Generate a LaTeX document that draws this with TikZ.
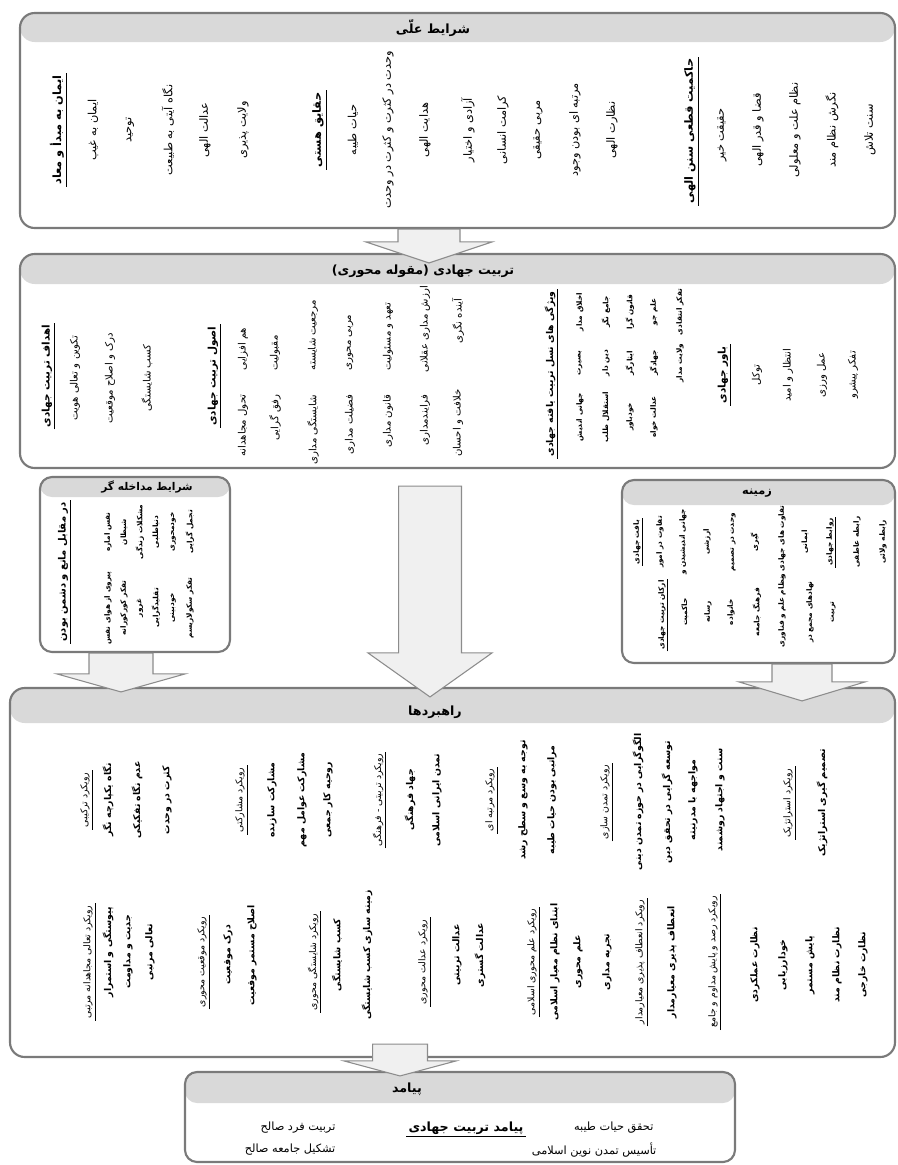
\documentclass[tikz,border=0pt]{standalone}
\usepackage{fontspec}
\usetikzlibrary{calc,fit}
\newfontfamily\fa[Script=Arabic]{DejaVu Sans}
\TeXXeTstate=1
\newcommand\pr[1]{\beginR#1\endR}
\definecolor{hdrc}{HTML}{D9D9D9}
\definecolor{brd}{HTML}{7A7A7A}
\definecolor{arrf}{HTML}{F0F0F0}
\definecolor{arrd}{HTML}{8C8C8C}
\newcommand\barrow[5]{\draw[barr] let \p1=(#1), \p2=(#2) in (\x1-#3,\y1) -- (\x1+#3,\y1) -- (\x1+#3,\y2+#5) -- (\x1+#4,\y2+#5) -- (\x1,\y2) -- (\x1-#4,\y2+#5) -- (\x1-#3,\y2+#5) -- cycle;}
\begin{document}
\begin{tikzpicture}[x=0.75pt,y=-0.75pt,
  box/.style={draw=brd, line width=1.6pt, rounded corners=11pt, inner sep=0pt, fill=white,
    path picture={\fill[hdrc] (path picture bounding box.north west) rectangle ([yshift=-#1]path picture bounding box.north east);}},
  barr/.style={draw=arrd, fill=arrf, line width=0.8pt, line join=miter},
  ul/.style={append after command={(\tikzlastnode.south west) edge[draw=black, line width=0.6pt] (\tikzlastnode.south east)}},
  itm/.style={rotate=90, inner sep=1pt, font=\fa\fontsize{8.5}{10}\selectfont},
  hd/.style={itm, ul, inner sep=1.5pt, font=\fa\bfseries\fontsize{8.5}{10}\selectfont},
  mitm/.style={itm, font=\fa\fontsize{7.6}{9}\selectfont},
  mhd/.style={hd, font=\fa\bfseries\fontsize{7.8}{9}\selectfont},
  sm/.style={itm, inner sep=0.5pt, font=\fa\bfseries\fontsize{5.5}{6.5}\selectfont},
  smh/.style={sm, ul, inner sep=1pt},
  sitm/.style={itm, font=\fa\bfseries\fontsize{7}{8.5}\selectfont},
  shd/.style={itm, ul, inner sep=1.5pt, font=\fa\fontsize{7}{8.5}\selectfont},
  ttl/.style={inner sep=1pt, font=\fa\bfseries\fontsize{9.5}{11}\selectfont},
  bt/.style={inner sep=1pt, font=\fa\fontsize{8.5}{10}\selectfont}]
\useasboundingbox (0,0) rectangle (898,1165);
% boxes
\node[box=21.75pt, fit={(20,13) (895,228)}] (tb) {};
\node[box=22.5pt, fit={(20,254) (895,468)}] (mb) {};
\node[box=15pt, rounded corners=9pt, fit={(40,477) (230,652)}] (lb) {};
\node[box=18.75pt, rounded corners=9pt, fit={(622,480) (895,663)}] (rb) {};
\node[box=26.25pt, fit={(10,688) (895,1057)}] (sb) {};
\node[box=23.25pt, rounded corners=9pt, fit={(185,1072) (735,1162)}] (ob) {};
% ---- top box
\node[ttl] (tbt) at (433,28) {\pr{شرایط علّی}};
\node[hd] (t1) at (57,130) {\pr{ایمان به مبدأ و معاد}};
\node[itm] (t2) at (93,130) {\pr{ایمان به غیب}};
\node[itm] (t3) at (130,130) {\pr{توحید}};
\node[itm] (t4) at (168,130) {\pr{نگاه آیتی به طبیعت}};
\node[itm] (t5) at (205,130) {\pr{عدالت الهی}};
\node[itm] (t6) at (243,130) {\pr{ولایت پذیری}};
\node[hd] (t7) at (318,130) {\pr{حقایق هستی}};
\node[itm] (t8) at (353,130) {\pr{حیات طیبه}};
\node[itm] (t9) at (388,130) {\pr{وحدت در کثرت و کثرت در وحدت}};
\node[itm] (t10) at (425,130) {\pr{هدایت الهی}};
\node[itm] (t11) at (468,130) {\pr{آزادی و اختیار}};
\node[itm] (t12) at (503,130) {\pr{کرامت انسانی}};
\node[itm] (t13) at (538,130) {\pr{مربی حقیقی}};
\node[itm] (t14) at (575,130) {\pr{مرتبه ای بودن وجود}};
\node[itm] (t15) at (612,130) {\pr{نظارت الهی}};
\node[hd] (t16) at (690,131) {\pr{حاکمیت قطعی سنن الهی}};
\node[itm] (t17) at (722,135) {\pr{حقیقت خیر}};
\node[itm] (t18) at (758,130) {\pr{قضا و قدر الهی}};
\node[itm] (t19) at (795,130) {\pr{نظام علت و معلولی}};
\node[itm] (t20) at (832,130) {\pr{نگرش نظام مند}};
\node[itm] (t21) at (870,130) {\pr{سنت تلاش}};
% ---- middle box
\node[ttl] (mbt) at (423,271) {\pr{تربیت جهادی (مقوله محوری)}};
\node[mhd] (m1) at (47,376) {\pr{اهداف تربیت جهادی}};
\node[mitm] (m2) at (75,378) {\pr{تکوین و تعالی هویت}};
\node[mitm] (m3) at (110,378) {\pr{درک و اصلاح موقعیت}};
\node[mitm] (m4) at (147,378) {\pr{کسب شایستگی}};
\node[mhd] (m5) at (213,376) {\pr{اصول تربیت جهادی}};
\node[mitm,anchor=west] (m6) at (243,372) {\pr{هم افزایی}};
\node[mitm,anchor=west] (m7) at (275,372) {\pr{مقبولیت}};
\node[mitm,anchor=west] (m8) at (313,372) {\pr{مرجعیت شایسته}};
\node[mitm,anchor=west] (m9) at (350,372) {\pr{مربی محوری}};
\node[mitm,anchor=west] (m10) at (388,372) {\pr{تعهد و مسئولیت}};
\node[mitm,anchor=west] (m11) at (425,374) {\pr{ارزش مداری عقلانی}};
\node[mitm,anchor=west] (m12) at (458,345) {\pr{آینده نگری}};
\node[mitm,anchor=east] (m13) at (243,393) {\pr{تحول مجاهدانه}};
\node[mitm,anchor=east] (m14) at (275,393) {\pr{رفق گرایی}};
\node[mitm,anchor=east] (m15) at (313,393) {\pr{شایستگی مداری}};
\node[mitm,anchor=east] (m16) at (350,393) {\pr{فضیلت مداری}};
\node[mitm,anchor=east] (m17) at (388,393) {\pr{قانون مداری}};
\node[mitm,anchor=east] (m18) at (425,393) {\pr{فرایندمداری}};
\node[mitm,anchor=east] (m19) at (458,388) {\pr{خلافت و احسان}};
\node[hd, font=\fa\bfseries\fontsize{7}{8.5}\selectfont] (m20) at (550,374) {\pr{ویژگی های نسل تربیت یافته جهادی}};
\node[sm] (m21) at (580,312) {\pr{اخلاق مدار}};
\node[sm] (m22) at (606,312) {\pr{جامع نگر}};
\node[sm] (m23) at (630,312) {\pr{قانون گرا}};
\node[sm] (m24) at (654,312) {\pr{علم جو}};
\node[sm] (m25) at (680,312) {\pr{تفکر انتقادی}};
\node[sm] (m26) at (580,363) {\pr{بصیرت}};
\node[sm] (m27) at (606,363) {\pr{دین دار}};
\node[sm] (m28) at (630,363) {\pr{ایثارگر}};
\node[sm] (m29) at (654,363) {\pr{جهادگر}};
\node[sm] (m30) at (680,363) {\pr{ولایت مدار}};
\node[sm] (m31) at (580,417) {\pr{جهانی اندیش}};
\node[sm] (m32) at (606,417) {\pr{استقلال طلب}};
\node[sm] (m33) at (630,417) {\pr{خودباور}};
\node[sm] (m34) at (654,417) {\pr{عدالت خواه}};
\node[mhd] (m35) at (723,375) {\pr{باور جهادی}};
\node[mitm] (m36) at (757,375) {\pr{توکل}};
\node[mitm] (m37) at (788,375) {\pr{انتظار و امید}};
\node[mitm] (m38) at (822,375) {\pr{عمل ورزی}};
\node[mitm] (m39) at (853,375) {\pr{تفکر پیشرو}};
% ---- left box
\node[ttl, font=\fa\bfseries\fontsize{8}{9}\selectfont] (lbt) at (147,487) {\pr{شرایط مداخله گر}};
\node[hd, font=\fa\bfseries\fontsize{7.5}{9}\selectfont] (l1) at (63,572) {\pr{در مقابل مانع و دشمن بودن}};
\node[sm] (l2) at (108,532) {\pr{نفس اماره}};
\node[sm] (l3) at (124,532) {\pr{شیطان}};
\node[sm] (l4) at (140,532) {\pr{مشکلات زندگی}};
\node[sm] (l5) at (156,532) {\pr{دنیاطلبی}};
\node[sm] (l6) at (173,532) {\pr{خودمحوری}};
\node[sm] (l7) at (190,532) {\pr{تجمل گرایی}};
\node[sm] (l8) at (108,608) {\pr{پیروی از هوای نفس}};
\node[sm] (l9) at (124,608) {\pr{تفکر کورکورانه}};
\node[sm] (l10) at (140,608) {\pr{غرور}};
\node[sm] (l11) at (156,608) {\pr{تقلیدگرایی}};
\node[sm] (l12) at (173,608) {\pr{خودبینی}};
\node[sm] (l13) at (190,608) {\pr{تفکر سکولاریسم}};
% ---- right box
\node[ttl, font=\fa\bfseries\fontsize{8.5}{10}\selectfont] (rbt) at (757,493) {\pr{زمینه}};
\node[smh] (r1) at (637,542) {\pr{بافت جهادی}};
\node[sm] (r2) at (660,542) {\pr{تفاوت در امور}};
\node[sm] (r3) at (683,542) {\pr{جهانی اندیشیدن و}};
\node[sm] (r4) at (707,542) {\pr{ارزشی}};
\node[sm] (r5) at (733,542) {\pr{وحدت در تصمیم}};
\node[sm] (r6) at (755,542) {\pr{گیری}};
\node[sm] (r7) at (782,542) {\pr{تفاوت های جهادی و}};
\node[sm] (r8) at (805,542) {\pr{ایمانی}};
\node[smh] (r9) at (830,542) {\pr{روابط جهادی}};
\node[sm] (r10) at (857,542) {\pr{رابطه عاطفی}};
\node[sm] (r11) at (883,542) {\pr{رابطه ولائی}};
\node[smh] (r12) at (662,615) {\pr{ارکان تربیت جهادی}};
\node[sm] (r13) at (685,612) {\pr{حاکمیت}};
\node[sm] (r14) at (708,612) {\pr{رسانه}};
\node[sm] (r15) at (731,612) {\pr{خانواده}};
\node[sm] (r16) at (757,612) {\pr{فرهنگ جامعه}};
\node[sm] (r17) at (782,612) {\pr{نظام علم و فناوری}};
\node[sm] (r18) at (810,612) {\pr{نهادهای مجمع در}};
\node[sm] (r19) at (833,612) {\pr{تربیت}};
% ---- strategy box
\node[ttl] (sbt) at (435,712) {\pr{راهبردها}};
\node[shd] (s1) at (85,800) {\pr{رویکرد ترکیبی}};
\node[sitm] (s2) at (108,800) {\pr{نگاه یکپارچه نگر}};
\node[sitm] (s3) at (137,800) {\pr{عدم نگاه تفکیکی}};
\node[sitm] (s4) at (167,800) {\pr{کثرت در وحدت}};
\node[shd] (s5) at (240,800) {\pr{رویکرد مشارکتی}};
\node[sitm] (s6) at (272,800) {\pr{مشارکت سازنده}};
\node[sitm] (s7) at (302,800) {\pr{مشارکت عوامل مهم}};
\node[sitm] (s8) at (328,800) {\pr{روحیه کار جمعی}};
\node[shd] (s9) at (378,800) {\pr{رویکرد تربیتی - فرهنگی}};
\node[sitm] (s10) at (410,800) {\pr{جهاد فرهنگی}};
\node[sitm] (s11) at (437,800) {\pr{تمدن ایرانی اسلامی}};
\node[shd] (s12) at (490,800) {\pr{رویکرد مرتبه ای}};
\node[sitm] (s13) at (523,800) {\pr{توجه به وسع و سطح رشد}};
\node[sitm] (s14) at (552,800) {\pr{مراتبی بودن حیات طیبه}};
\node[shd] (s15) at (605,802) {\pr{رویکرد تمدن سازی}};
\node[sitm] (s16) at (638,802) {\pr{الگوگرایی در حوزه تمدن دینی}};
\node[sitm] (s17) at (667,802) {\pr{توسعه گرایی در تحقق دین}};
\node[sitm] (s18) at (693,800) {\pr{مواجهه با مدرنیته}};
\node[sitm] (s19) at (720,800) {\pr{سنت و اجتهاد روشمند}};
\node[shd] (s20) at (788,803) {\pr{رویکرد استراتژیک}};
\node[sitm] (s21) at (822,803) {\pr{تصمیم گیری استراتژیک}};
\node[shd] (s22) at (88,962) {\pr{رویکرد تعالی مجاهدانه مرتبی}};
\node[sitm] (s23) at (108,952) {\pr{پیوستگی و استمرار}};
\node[sitm] (s24) at (128,952) {\pr{جدیت و مداومت}};
\node[sitm] (s25) at (150,952) {\pr{تعالی مرتبی}};
\node[shd] (s26) at (202,962) {\pr{رویکرد موقعیت محوری}};
\node[sitm] (s27) at (228,955) {\pr{درک موقعیت}};
\node[sitm] (s28) at (252,955) {\pr{اصلاح مستمر موقعیت}};
\node[shd] (s29) at (313,962) {\pr{رویکرد شایستگی محوری}};
\node[sitm] (s30) at (337,955) {\pr{کسب شایستگی}};
\node[sitm] (s31) at (367,955) {\pr{زمینه سازی کسب شایستگی}};
\node[shd] (s32) at (423,962) {\pr{رویکرد عدالت محوری}};
\node[sitm] (s33) at (457,955) {\pr{عدالت تربیتی}};
\node[sitm] (s34) at (480,955) {\pr{عدالت گستری}};
\node[shd] (s35) at (532,962) {\pr{رویکرد علم محوری اسلامی}};
\node[sitm] (s36) at (555,962) {\pr{ابتنای نظام معیار اسلامی}};
\node[sitm] (s37) at (578,962) {\pr{علم محوری}};
\node[sitm] (s38) at (607,962) {\pr{تجربه مداری}};
\node[shd] (s39) at (640,962) {\pr{رویکرد انعطاف پذیری معیارمدار}};
\node[sitm] (s40) at (672,962) {\pr{انعطاف پذیری معیارمدار}};
\node[shd] (s41) at (713,962) {\pr{رویکرد رصد و پایش مداوم و جامع}};
\node[sitm] (s42) at (755,965) {\pr{نظارت عملکردی}};
\node[sitm] (s43) at (783,965) {\pr{خودارزیابی}};
\node[sitm] (s44) at (810,965) {\pr{پایش مستمر}};
\node[sitm] (s45) at (837,965) {\pr{نظارت نظام مند}};
\node[sitm] (s46) at (863,965) {\pr{نظارت خارجی}};
% ---- outcome box
\node[ttl] (obt) at (407,1089) {\pr{پیامد}};
\node[ttl, ul, inner sep=1.5pt] (o1) at (466,1128) {\pr{پیامد تربیت جهادی}};
\node[bt, anchor=east] (o2) at (655,1128) {\pr{تحقق حیات طیبه}};
\node[bt, anchor=east] (o3) at (658,1150) {\pr{تأسیس تمدن نوین اسلامی}};
\node[bt, anchor=east] (o4) at (337,1128) {\pr{تربیت فرد صالح}};
\node[bt, anchor=east] (o5) at (337,1150) {\pr{تشکیل جامعه صالح}};
% ---- block arrows
\coordinate (a1s) at ($(tb.south)+(-28.5,0)$);
\coordinate (a1e) at ($(mb.north)+(-28,10)$);
\coordinate (a2s) at ($(mb.south)+(-27.5,17)$);
\coordinate (a2e) at ($(sb.north)+(-22.5,10)$);
\coordinate (a3s) at ($(lb.south)+(-14,0)$);
\coordinate (a3e) at ($(sb.north)+(-331.5,5)$);
\coordinate (a4s) at ($(rb.south)+(43.5,0)$);
\coordinate (a4e) at ($(sb.north)+(349.5,14)$);
\coordinate (a5s) at ($(sb.south)+(-52.5,-14)$);
\coordinate (a5e) at ($(ob.north)+(-60,5)$);
\barrow{a1s}{a1e}{23.25pt}{47.25pt}{15.75pt}
\barrow{a2s}{a2e}{23.6pt}{46.5pt}{33pt}
\barrow{a3s}{a3e}{24pt}{48pt}{13.5pt}
\barrow{a4s}{a4e}{22.5pt}{47.25pt}{14.25pt}
\barrow{a5s}{a5e}{20.6pt}{42pt}{11.25pt}
\end{tikzpicture}
\end{document}
